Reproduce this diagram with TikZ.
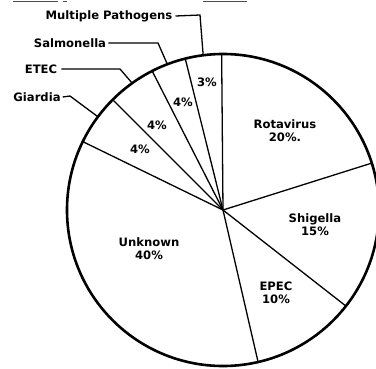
\documentclass[tikz,border=0pt]{standalone}
\usepackage{fontspec}
\setmainfont{DejaVu Sans}
\begin{document}
\begin{tikzpicture}[x=1pt,y=-1pt,
  lbl/.style={font=\fontsize{11.6}{13}\selectfont\bfseries, inner sep=0pt, align=center},
  rim/.style={line width=2.6pt},
  spoke/.style={line width=1.3pt},
  leader/.style={line width=1.3pt},
  scanmark/.style={line width=0.8pt, black!70}]
\useasboundingbox (0,0) rectangle (376,368);
% scan marks at the top edge
\draw[scanmark] (13,1.5) -- (58,1.5);
\draw[scanmark] (63,1.5) -- (67,1.5);
\draw[scanmark] (203,1.5) -- (247,1.5);
% centre and rim
\coordinate (c) at (223,210);
\draw[rim] (c) circle[radius=156];
% slice boundaries (visual angle = minus TikZ angle because y is flipped)
\path (c) ++(-90.5:156) coordinate (b1);
\path (c) ++(-17.5:156) coordinate (b2);
\path (c) ++(38:156) coordinate (b3);
\path (c) ++(77:156) coordinate (b4);
\path (c) ++(-154:156) coordinate (b5);
\path (c) ++(-135:156) coordinate (b6);
\path (c) ++(-117:156) coordinate (b7);
\path (c) ++(-104:156) coordinate (b8);
\foreach \b in {b1,b2,b3,b4,b5,b6,b7,b8} \draw[spoke] (c) -- (\b);
% slice labels
\node[lbl] (rot) at (285,131) {Rotavirus\\20\%.};
\node[lbl] (shi) at (315,225) {Shigella\\15\%};
\node[lbl] (epe) at (276,293) {EPEC\\10\%};
\node[lbl] (unk) at (149,249) {Unknown\\40\%};
\node[lbl] (p3) at (207,82) {3\%};
\node[lbl] (p4a) at (183,102) {4\%};
\node[lbl] (p4b) at (157,125) {4\%};
\node[lbl] (p4c) at (140,149) {4\%};
% outside labels with leaders
\node[lbl] (mp) at (109,16) {Multiple Pathogens};
\node[lbl] (sal) at (70,43) {Salmonella};
\node[lbl] (etec) at (41,69) {ETEC};
\node[lbl] (gia) at (37,97) {Giardia};
\path (c) ++(-97.3:156) coordinate (tmp);
\path (c) ++(-110.9:156) coordinate (tsal);
\path (c) ++(-125.6:156) coordinate (tetec);
\path (c) ++(-143.3:156) coordinate (tgia);
\coordinate (kmp) at (200,15);
\coordinate (ksal) at (158,43);
\coordinate (ketec) at (120,69);
\coordinate (kgia) at (70,96);
\draw[leader] ([xshift=3pt]mp.east) -- (kmp) -- (tmp);
\draw[leader] ([xshift=2pt]sal.east) -- (ksal) -- (tsal);
\draw[leader] ([xshift=4pt]etec.east) -- (ketec) -- (tetec);
\draw[leader] ([xshift=2pt]gia.east) -- (kgia) -- (tgia);
\end{tikzpicture}
\end{document}
